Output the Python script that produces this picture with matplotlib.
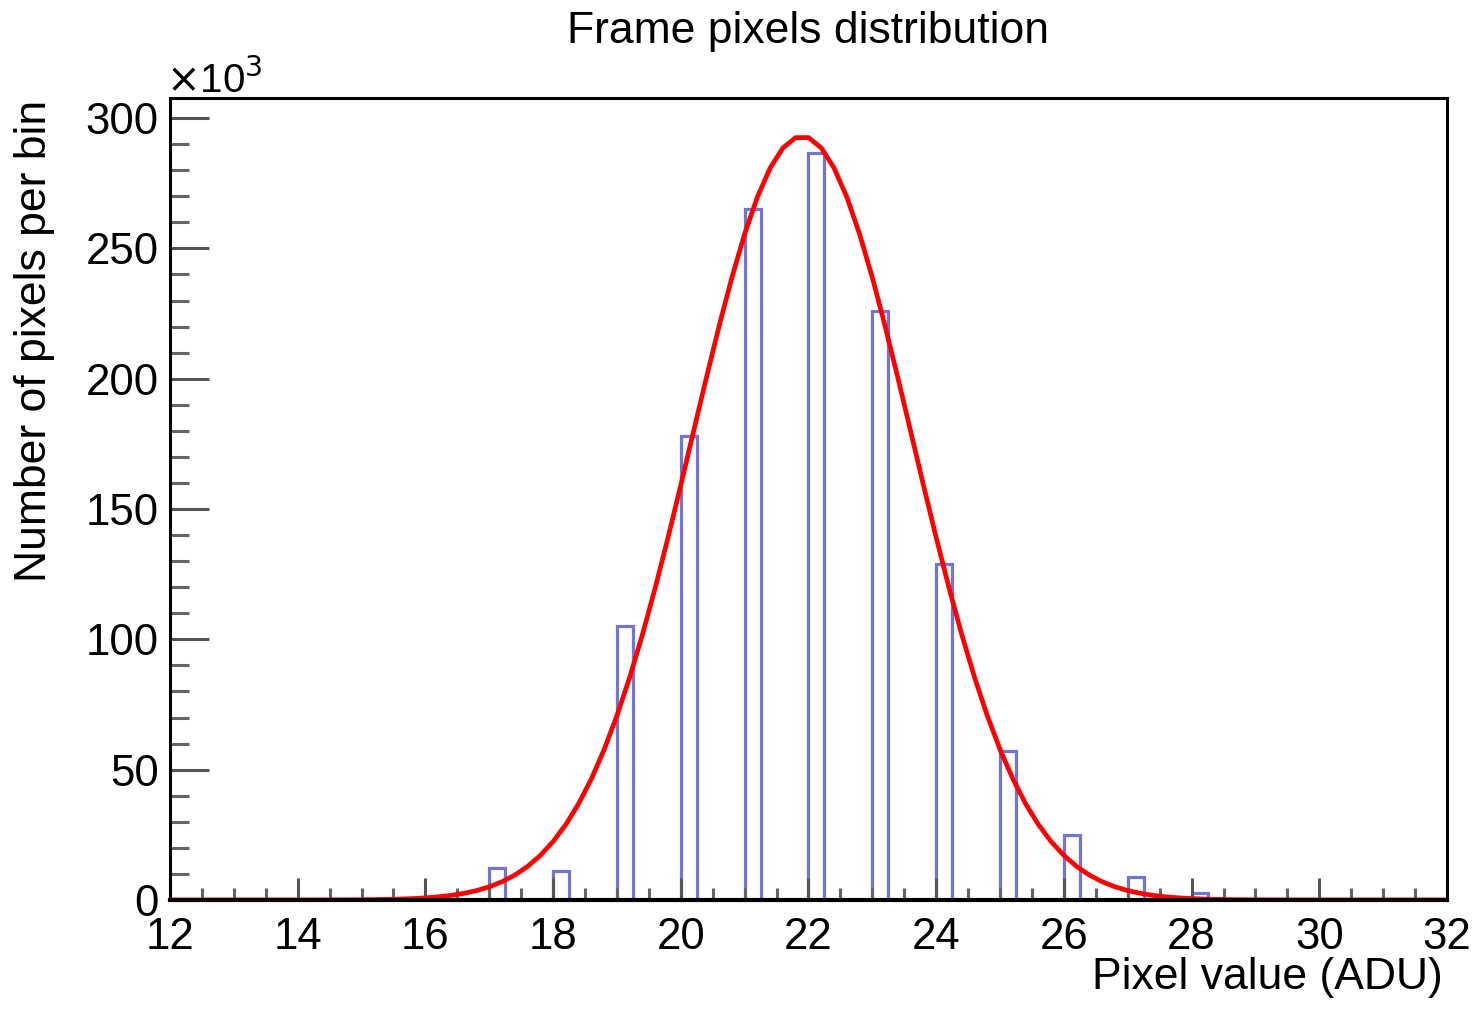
import numpy as np
import matplotlib.pyplot as plt
from matplotlib.ticker import MultipleLocator

plt.rcParams['font.family'] = ['Liberation Sans', 'DejaVu Sans']

# histogram: 80 bins of 0.25 ADU between 12 and 32
x_min, x_max, bin_width = 12, 32, 0.25
pixel_values = [17, 18, 19, 20, 21, 22, 23, 24, 25, 26, 27, 28]
counts_k = [12.3, 11.0, 105.0, 178.0, 265.0, 286.5, 226.0, 129.0, 57.0, 25.0, 9.0, 2.7]

# gaussian fit parameters (constant in 10^3, mean, sigma)
fit_const = 293.0
fit_mean = 21.9
fit_sigma = 1.72

edges = np.arange(x_min, x_max + bin_width / 2, bin_width)
counts = np.zeros(len(edges) - 1)
for v, c in zip(pixel_values, counts_k):
    counts[int(round((v - x_min) / bin_width))] = c

fx = np.linspace(x_min, x_max, 101)
fy = fit_const * np.exp(-0.5 * ((fx - fit_mean) / fit_sigma) ** 2)

fig = plt.figure(figsize=(14.79, 10.09), dpi=100)
ax = fig.add_axes([170 / 1479, 1 - 900 / 1009, (1447 - 170) / 1479, (900 - 98) / 1009])

ax.stairs(counts, edges, color='#7474d4', linewidth=2.3, baseline=0)
ax.plot(fx, fy, color='#ff0000', linewidth=3.4)

ax.set_xlim(x_min, x_max)
ax.set_ylim(0, 307.7)

ax.xaxis.set_major_locator(MultipleLocator(2))
ax.xaxis.set_minor_locator(MultipleLocator(0.5))
ax.yaxis.set_major_locator(MultipleLocator(50))
ax.yaxis.set_minor_locator(MultipleLocator(10))
ax.tick_params(axis='x', which='major', direction='in', length=16, width=2.2,
               color='#555555', labelsize=31.5, pad=12)
ax.tick_params(axis='x', which='minor', direction='in', length=9, width=2.2, color='#666666')
ax.tick_params(axis='y', which='major', direction='in', length=28, width=2.2,
               color='#555555', labelsize=31.5, pad=8)
ax.tick_params(axis='y', which='minor', direction='in', length=14, width=2.2, color='#666666')
for s in ax.spines.values():
    s.set_linewidth(2.2)
ax.spines['bottom'].set_linewidth(3)

fig.text(808 / 1479, 1 - 32 / 1009, 'Frame pixels distribution', ha='center', va='center',
         fontsize=32)
fig.text(1443 / 1479, 1 - 978 / 1009, 'Pixel value (ADU)', ha='right', va='center', fontsize=32)
fig.text(35 / 1479, 1 - 100 / 1009, 'Number of pixels per bin', ha='center', va='top',
         rotation=90, fontsize=32)
fig.text(166 / 1479, 1 - 80 / 1009, r'$\times$10$^{3}$', ha='left', va='center', fontsize=29)

fig.savefig('out.png', dpi=100)
